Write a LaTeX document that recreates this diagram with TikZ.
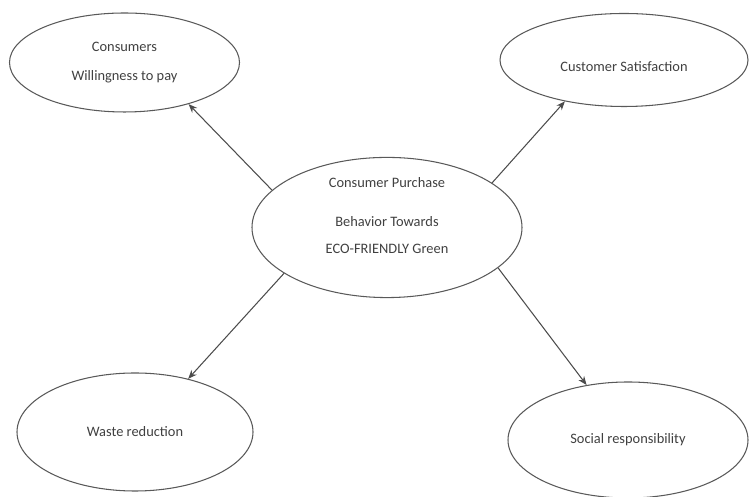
\documentclass[tikz,border=0pt]{standalone}
\usepackage{fontspec}
\setmainfont{Carlito}
\usepackage{tikz}
\usetikzlibrary{shapes.geometric, arrows.meta, positioning}

\begin{document}
\begin{tikzpicture}[
        bubble/.style={ellipse, draw=black!65, line width=0.6pt, inner sep=0pt,
            align=center, text=black!75, font=\fontsize{8.2}{9.5}\selectfont},
        link/.style={-{Stealth[length=5pt,width=4pt]}, draw=black!70, line width=0.6pt}
    ]
        \useasboundingbox (0,0) rectangle (14.98,9.94);
        \node[bubble, minimum width=5.4cm, minimum height=2.7cm] (purchase) at (7.74,5.39)
            {Consumer Purchase\\[12.5pt]Behavior Towards\\[6pt]ECO-FRIENDLY Green\\[3.7pt]~};
        \node[bubble, minimum width=4.6cm, minimum height=1.98cm] (willing) at (2.49,8.69)
            {Consumers\\[7pt]Willingness to pay};
        \node[bubble, minimum width=4.96cm, minimum height=1.86cm] (satisf) at (12.48,8.74)
            {~\\[4pt]Customer Satisfaction};
        \node[bubble, minimum width=4.72cm, minimum height=2.36cm] (waste) at (2.70,1.30)
            {Waste reduction};
        \node[bubble, minimum width=4.8cm, minimum height=2.32cm] (social) at (12.56,1.14)
            {Social responsibility};
        \draw[link] (purchase.162) to (willing.-33);
        \draw[link] (purchase.23) to (satisf.-145);
        \draw[link] (purchase.204) to (waste.45);
        \draw[link] (purchase.-20) to (social.127);
    \end{tikzpicture}
\end{document}
